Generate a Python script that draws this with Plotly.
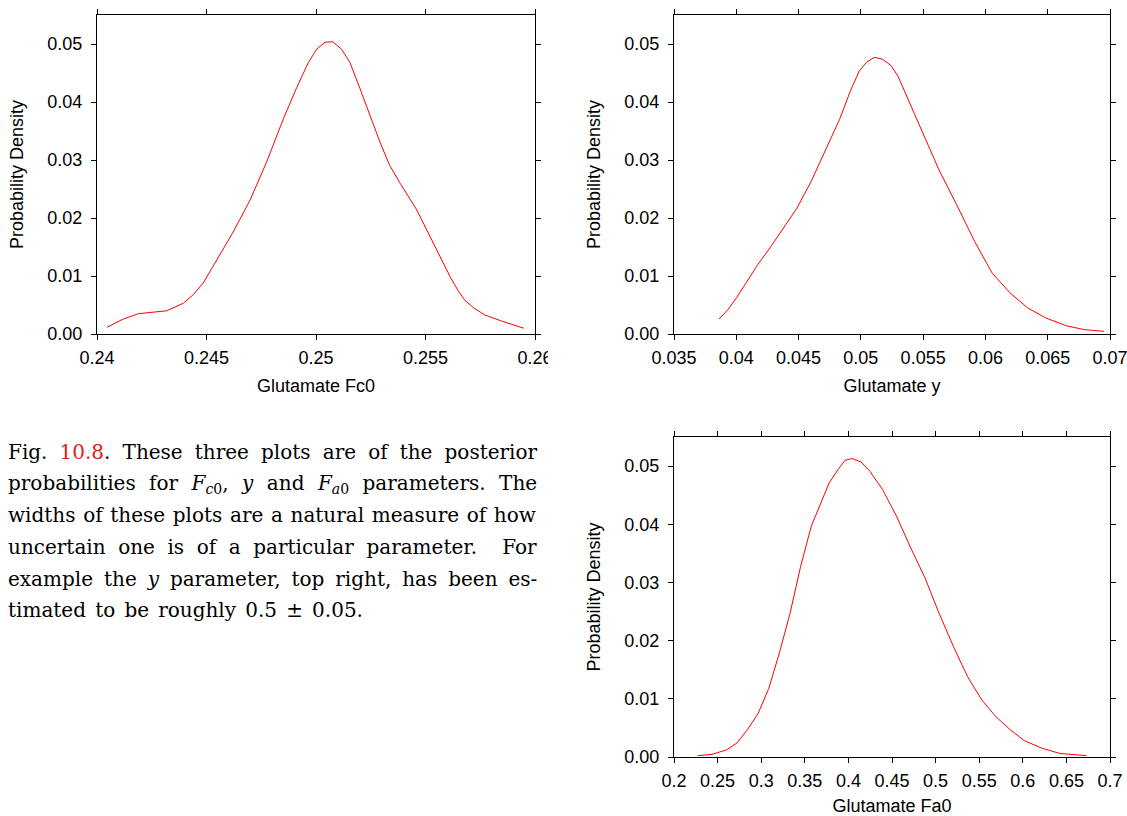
import plotly.graph_objects as go

W, H = 1127, 816
OFF = 0  # body margin is removed by the post script below

# ---- data ----
fc0_x = [0.24046, 0.24115, 0.24188, 0.24242, 0.24318, 0.24394, 0.2444, 0.24485, 0.24547, 0.24622,
         0.24699, 0.24775, 0.24851, 0.24912, 0.24965, 0.25003, 0.25041, 0.25076, 0.25117, 0.25155,
         0.25201, 0.25247, 0.25292, 0.25336, 0.25384, 0.2546, 0.25536, 0.25612, 0.2565, 0.2568,
         0.2572, 0.2577, 0.2585, 0.25948]
fc0_p = [0.00115, 0.0025, 0.0035, 0.0037, 0.0040, 0.0053, 0.0068, 0.0088, 0.0128, 0.0176,
         0.0231, 0.0297, 0.0371, 0.0425, 0.0468, 0.0491, 0.0503, 0.0504, 0.0491, 0.0468,
         0.0423, 0.0377, 0.0331, 0.0291, 0.0260, 0.0214, 0.0156, 0.0099, 0.0074, 0.0058,
         0.0045, 0.0033, 0.0022, 0.0010]

y_x = [0.03862, 0.03933, 0.04003, 0.04088, 0.04174, 0.04288, 0.04402, 0.04487, 0.04601, 0.04715,
       0.04829, 0.04914, 0.04986, 0.05043, 0.05108, 0.05171, 0.05242, 0.05299, 0.05399, 0.05513,
       0.05627, 0.05769, 0.05912, 0.06054, 0.06197, 0.06339, 0.06481, 0.06652, 0.06795, 0.06952]
y_p = [0.00259, 0.0042, 0.0063, 0.0091, 0.0120, 0.0154, 0.0189, 0.0217, 0.0263, 0.0315,
       0.0370, 0.0418, 0.0453, 0.0468, 0.0477, 0.0474, 0.0463, 0.0444, 0.0395, 0.0341,
       0.0283, 0.0223, 0.0160, 0.0105, 0.0071, 0.0045, 0.0028, 0.0014, 0.00075, 0.00046]

fa0_x = [0.2273, 0.2436, 0.2599, 0.2721, 0.2843, 0.2965, 0.3087, 0.3209, 0.3331, 0.3453,
         0.3575, 0.3697, 0.3779, 0.3881, 0.3962, 0.4043, 0.4145, 0.4247, 0.4390, 0.4552,
         0.4716, 0.4878, 0.5040, 0.5204, 0.5367, 0.5530, 0.5693, 0.5855, 0.6018, 0.6222,
         0.6425, 0.6730]
fa0_p = [0.00023, 0.00046, 0.0012, 0.0024, 0.0047, 0.0075, 0.0118, 0.0179, 0.0247, 0.0328,
         0.0397, 0.0443, 0.0471, 0.0494, 0.0510, 0.0513, 0.0507, 0.0491, 0.0460, 0.0414,
         0.0359, 0.0308, 0.0247, 0.0190, 0.0138, 0.0098, 0.0069, 0.0047, 0.0028, 0.0015,
         0.0006, 0.00023]

fc0_ticks = [0.24, 0.245, 0.25, 0.255, 0.26]
fc0_ticktext = ["0.24", "0.245", "0.25", "0.255", "0.26"]
y_ticks = [0.035, 0.04, 0.045, 0.05, 0.055, 0.06, 0.065, 0.07]
y_ticktext = ["0.035", "0.04", "0.045", "0.05", "0.055", "0.06", "0.065", "0.07"]
fa0_ticks = [0.2, 0.25, 0.3, 0.35, 0.4, 0.45, 0.5, 0.55, 0.6, 0.65, 0.7]
fa0_ticktext = ["0.2", "0.25", "0.3", "0.35", "0.4", "0.45", "0.5", "0.55", "0.6", "0.65", "0.7"]
dens_ticks = [0.0, 0.01, 0.02, 0.03, 0.04, 0.05]
dens_ticktext = ["0.00", "0.01", "0.02", "0.03", "0.04", "0.05"]

x_titles = ["Glutamate Fc0", "Glutamate y", "Glutamate Fa0"]
y_title = "Probability Density"

caption_lines = [
    "Fig. <span style='color:#e3201b'>10.8</span>. These three plots are of the posterior",
    "probabilities for <i>F</i><sub><i>c</i>0</sub>, <i>y</i> and <i>F</i><sub><i>a</i>0</sub> parameters. The",
    "widths of these plots are a natural measure of how",
    "uncertain one is of a particular parameter.  For",
    "example the <i>y</i> parameter, top right, has been es-",
    "timated to be roughly 0.5 ± 0.05.",
]
# extra inter-word spacing (px) to justify each line like the reference
caption_wordspacing = [5.75, 7.1, 1.3, 6.2, 4.57, 2.8]

# ---- layout geometry (page pixels) ----
def px_x(a, b):
    return [(a - OFF) / W, (b - OFF) / W]

def px_y(top, bottom):
    return [1 - (bottom - OFF) / H, 1 - (top - OFF) / H]

sans = "Liberation Sans, Arial, sans-serif"
FS = 18
fig = go.Figure()
for xs, ps, xa, ya in [(fc0_x, fc0_p, "x", "y"), (y_x, y_p, "x2", "y2"), (fa0_x, fa0_p, "x3", "y3")]:
    fig.add_trace(go.Scatter(x=xs, y=ps, mode="lines", line=dict(color="red", width=1),
                             xaxis=xa, yaxis=ya, showlegend=False, hoverinfo="skip"))

common = dict(showline=True, linecolor="black", linewidth=1, mirror="allticks",
              ticks="outside", ticklen=5, tickcolor="black", tickwidth=1,
              showgrid=False, zeroline=False, automargin=False, ticklabeloverflow="allow",
              tickfont=dict(family=sans, size=FS, color="black"))

def xax(dom, anchor, rng, tv, tt, title):
    return dict(domain=dom, anchor=anchor, range=rng, tickmode="array", tickvals=tv, ticktext=tt,
                title=dict(text=title, font=dict(family=sans, size=FS, color="black"), standoff=12),
                ticklabelstandoff=2, **common)

def yax(dom, anchor):
    return dict(domain=dom, anchor=anchor, range=[0, 0.055], tickmode="array",
                tickvals=dens_ticks, ticktext=dens_ticktext,
                title=dict(text=y_title, font=dict(family=sans, size=FS, color="black"), standoff=19),
                ticklabelstandoff=5, **common)

fig.update_layout(
    width=W, height=H,
    margin=dict(l=0, r=0, t=0, b=0, autoexpand=False),
    paper_bgcolor="white", plot_bgcolor="white",
    xaxis=xax(px_x(97, 535), "y", [0.24, 0.26], fc0_ticks, fc0_ticktext, x_titles[0]),
    yaxis=yax(px_y(15, 334), "x"),
    xaxis2=xax(px_x(674, 1110), "y2", [0.035, 0.07], y_ticks, y_ticktext, x_titles[1]),
    yaxis2=yax(px_y(15, 334), "x2"),
    xaxis3=xax(px_x(674, 1110), "y3", [0.2, 0.7], fa0_ticks, fa0_ticktext, x_titles[2]),
    yaxis3=yax(px_y(437, 757), "x3"),
)

# the reference image is cropped just right of the "0.26" label
fig.add_shape(type="rect", xref="paper", yref="paper", x0=(548 - OFF) / W, x1=(566 - OFF) / W,
              y0=1 - (375 - OFF) / H, y1=1 - (342 - OFF) / H, fillcolor="white",
              line=dict(width=0), layer="above")

line_y = [452, 484, 515, 547, 579, 610]
for txt, ws, yy in zip(caption_lines, caption_wordspacing, line_y):
    fig.add_annotation(x=(8 - OFF) / W, y=1 - (yy - OFF) / H, xref="paper", yref="paper",
                       xanchor="left", yanchor="middle",
                       text=f"<span style='word-spacing:{ws}px'>{txt}</span>",
                       showarrow=False, borderpad=0, borderwidth=0, align="left",
                       font=dict(family="DejaVu Serif, Liberation Serif, serif", size=20, color="black"))

fig.write_html("out.html", config={"displayModeBar": False},
               post_script="document.body.style.margin='0';document.body.style.overflow='hidden';")
